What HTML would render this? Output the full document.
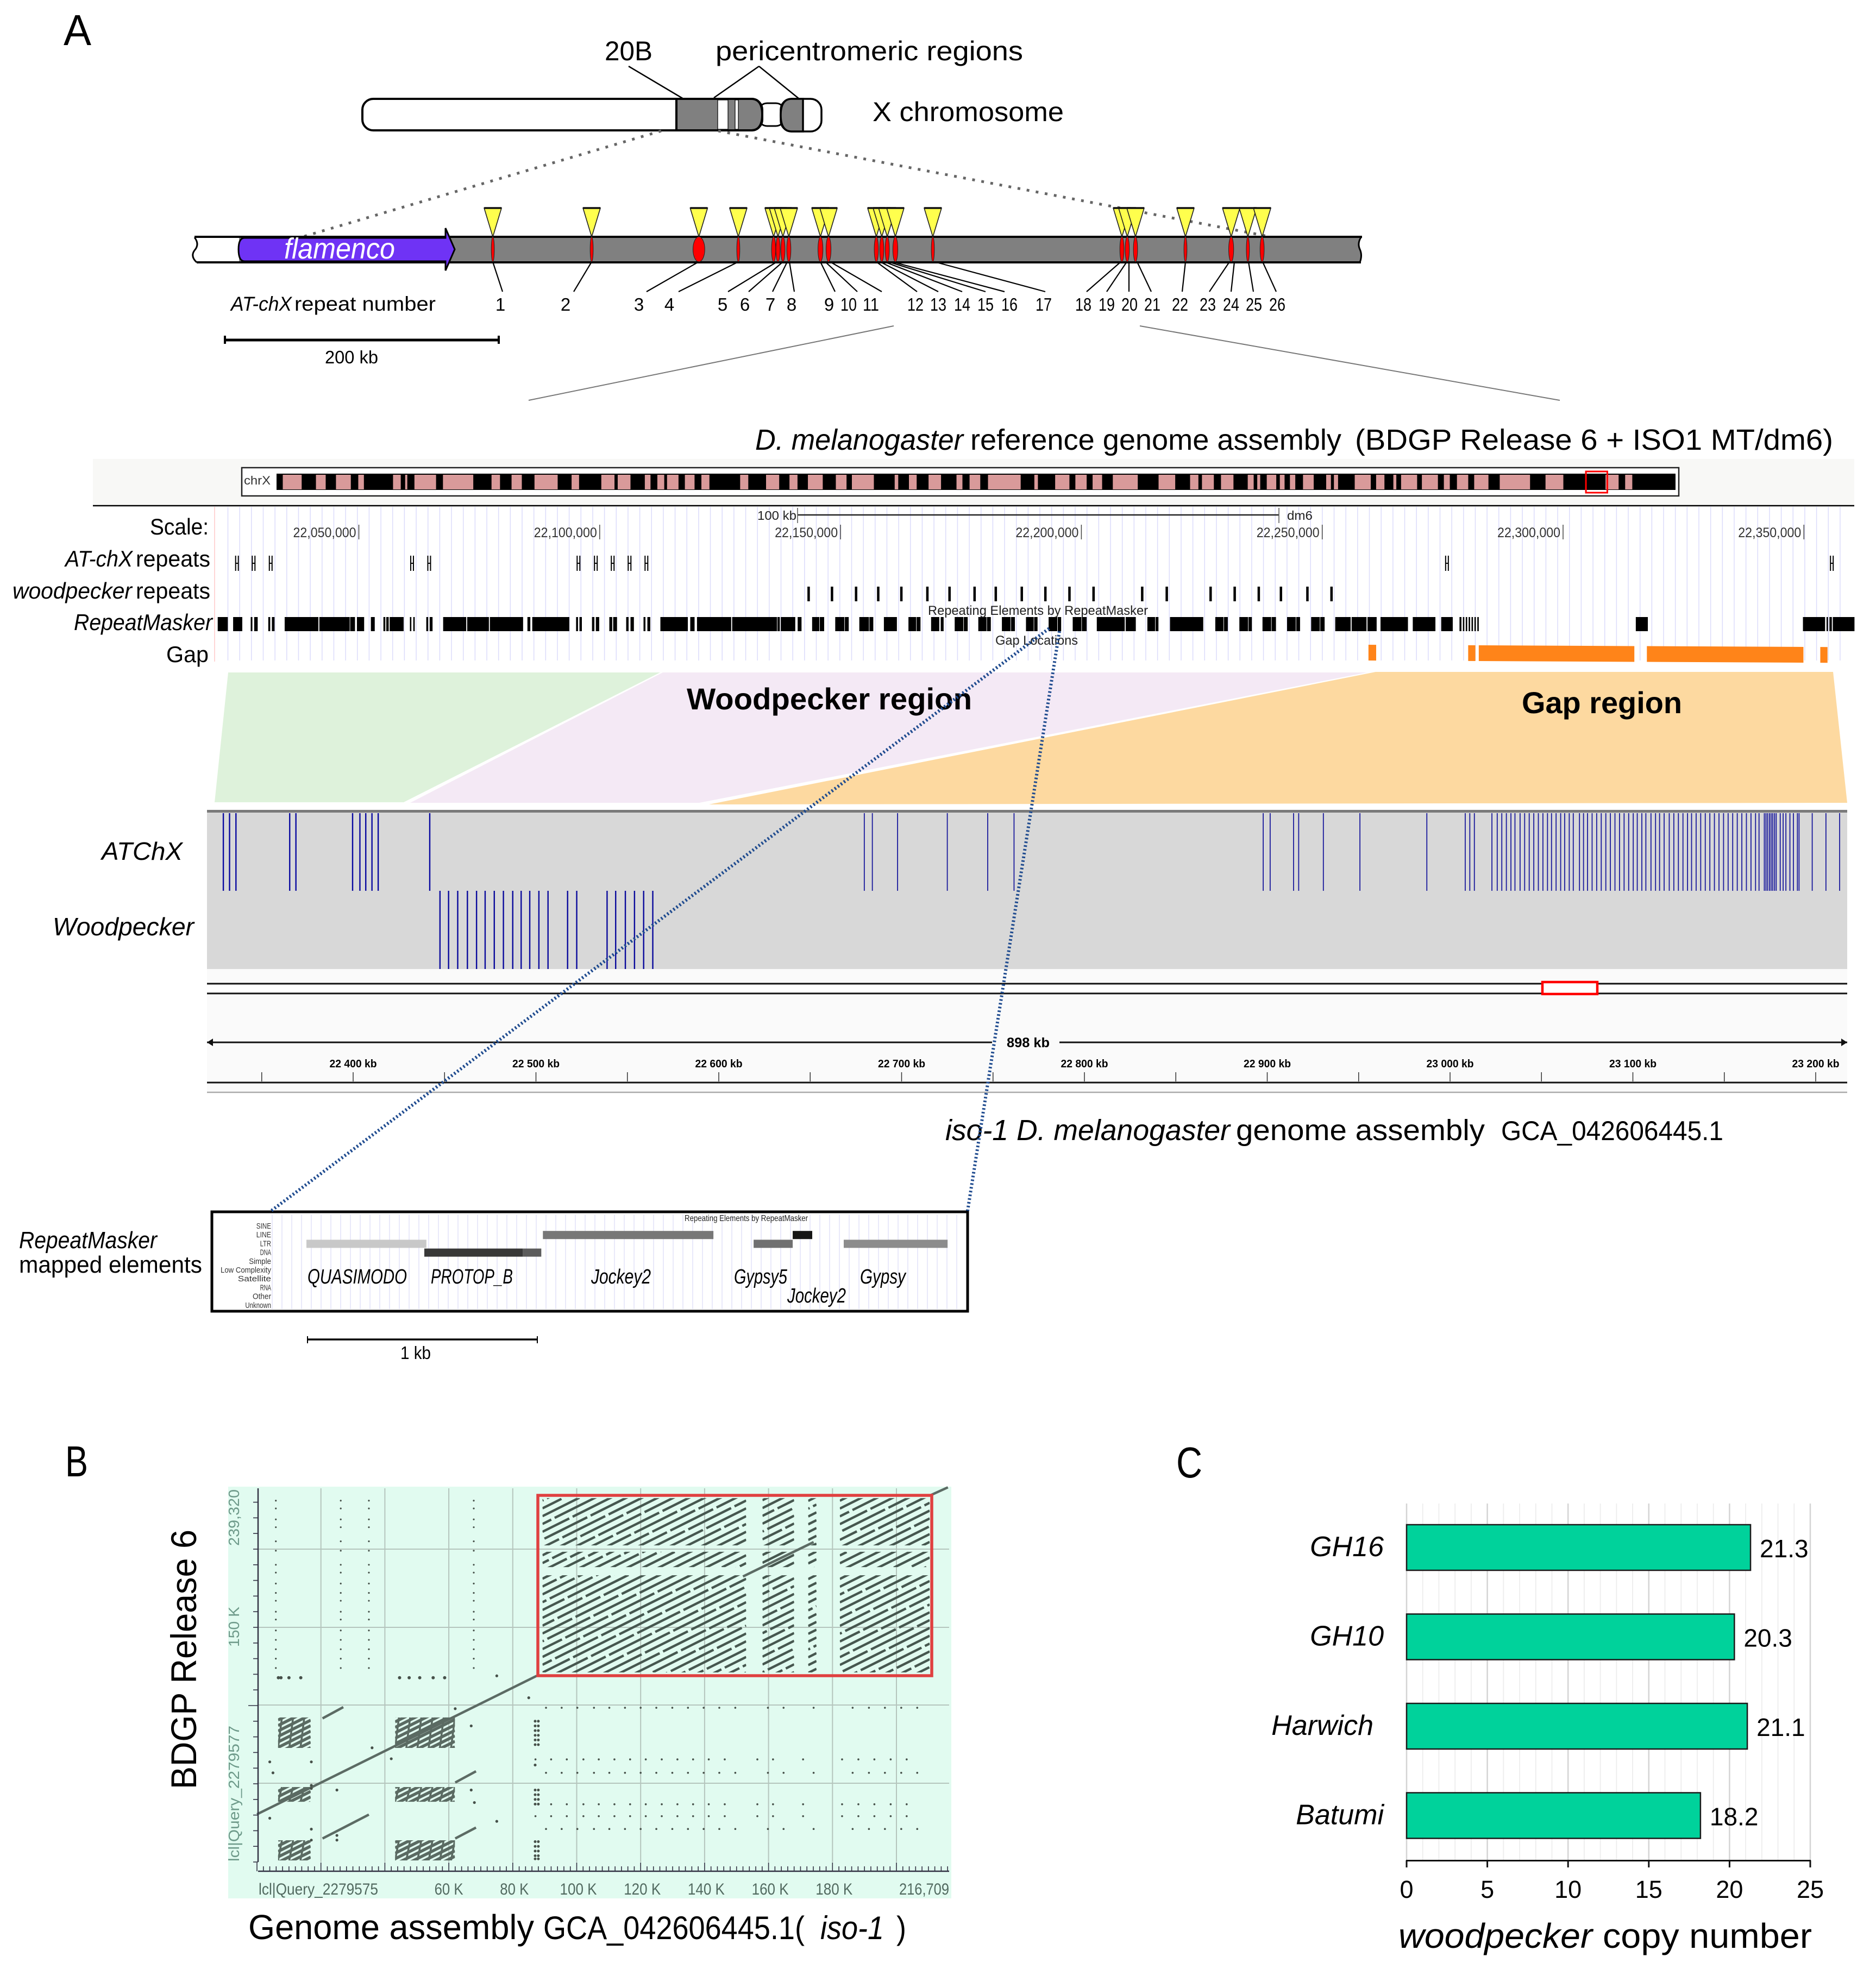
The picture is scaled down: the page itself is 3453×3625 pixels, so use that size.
<!DOCTYPE html>
<html lang="en">
<head>
<meta charset="utf-8">
<title>Woodpecker region figure</title>
<style>
html,body{margin:0;padding:0;background:#fff;}
svg{display:block;font-family:"Liberation Sans",Arial,sans-serif;}
text{fill:#000;}
</style>
</head>
<body>
<svg id="figure" xmlns="http://www.w3.org/2000/svg" width="3453" height="3625" viewBox="0 0 3453 3625">
<rect width="3453" height="3625" fill="#fff"/>

<text x="117" y="83" font-size="80" textLength="51" lengthAdjust="spacingAndGlyphs">A</text>
<text x="120" y="2718" font-size="80" textLength="42" lengthAdjust="spacingAndGlyphs">B</text>
<text x="2165" y="2720" font-size="80" textLength="48" lengthAdjust="spacingAndGlyphs">C</text>

<!-- chromosome -->
<g>
<text x="1113" y="111" font-size="50" textLength="88" lengthAdjust="spacingAndGlyphs">20B</text>
<text x="1317" y="111" font-size="50" textLength="566" lengthAdjust="spacingAndGlyphs">pericentromeric  regions</text>
<path d="M1157 122L1258 182M1397 122L1314 180M1397 122L1471 182" stroke="#000" stroke-width="2.5" fill="none"/>
<rect x="1396" y="190" width="48" height="42" rx="16" fill="#fff" stroke="#000" stroke-width="3"/>
<rect x="667" y="182" width="736" height="58" rx="20" fill="#fff" stroke="#000" stroke-width="4"/>
<path d="M1245 182H1383Q1403 182 1403 211Q1403 240 1383 240H1245Z" fill="#808080" stroke="#000" stroke-width="4"/>
<rect x="1321" y="184" width="19" height="54" fill="#fff" stroke="#000" stroke-width="1.2"/>
<rect x="1353" y="184" width="6" height="54" fill="#fff" stroke="#000" stroke-width="1.2"/>
<rect x="1437" y="182" width="75" height="60" rx="20" fill="#fff" stroke="#000" stroke-width="3.5"/>
<path d="M1478 182H1457Q1437 182 1437 212Q1437 242 1457 242H1478Z" fill="#808080" stroke="#000" stroke-width="3.5"/>
<text x="1606" y="223" font-size="50" textLength="352" lengthAdjust="spacingAndGlyphs">X chromosome</text>
<path d="M1217 241L557 436M1322 241L2339 436" stroke="#666" stroke-width="5" stroke-dasharray="5 12" fill="none"/>
</g>

<!-- flamenco track -->
<g id="flam">
<path d="M358 437H2505Q2498 448 2503 459Q2508 470 2503 482H362Q350 472 358 461Q368 450 358 437Z" fill="#808080" stroke="none"/>
<path d="M358 437H440V482H362Q350 472 358 461Q368 450 358 437Z" fill="#fff"/>
<path d="M358 436H2507M362 483H2505" stroke="#000" stroke-width="4" fill="none"/>
<path d="M358 437Q368 450 358 461Q350 472 362 483M2505 437Q2498 448 2503 459Q2508 470 2503 483" stroke="#000" stroke-width="3" fill="none"/>
<path d="M450 438H820V420L837 459L820 498V481H450Q439 481 439 459Q439 438 450 438Z" fill="#6f33f5" stroke="#000" stroke-width="3"/>
<text x="523" y="476" font-size="54" font-style="italic" textLength="204" lengthAdjust="spacingAndGlyphs" style="fill:#fff">flamenco</text>
</g>
<path stroke="#000" stroke-width="2.2" fill="none"
 d="M907 482L925 537M1089 482L1056 537M1286 482L1190 537M1359 482L1249 537M1430 482L1340 537M1441 482L1378 537M1449 482L1422 537M1453 482L1462 537M1510 482L1537 537M1519 482L1578 537M1528 482L1623 537M1613 482L1688 537M1620 482L1727 537M1628 482L1771 537M1635 482L1814 537M1642 482L1849 537M1720 482L1924 537M2063 482L2000 537M2074 482L2037 537M2078 482L2078 537M2093 482L2119 537M2182 482L2176 537M2263 482L2226 537M2272 482L2266 537M2298 482L2307 537M2324 482L2349 537"/>
<text x="425" y="572" font-size="37" font-style="italic" textLength="112" lengthAdjust="spacingAndGlyphs">AT-chX</text>
<text x="542" y="572" font-size="37" textLength="260" lengthAdjust="spacingAndGlyphs">repeat number</text>
<g font-size="33" text-anchor="middle">
<text x="921" y="572">1</text><text x="1041" y="572">2</text><text x="1176" y="572">3</text><text x="1232" y="572">4</text><text x="1330" y="572">5</text><text x="1371" y="572">6</text><text x="1418" y="572">7</text><text x="1457" y="572">8</text><text x="1526" y="572">9</text><text x="1562" y="572" textLength="30" lengthAdjust="spacingAndGlyphs">10</text><text x="1603" y="572" textLength="30" lengthAdjust="spacingAndGlyphs">11</text><text x="1685" y="572" textLength="30" lengthAdjust="spacingAndGlyphs">12</text><text x="1727" y="572" textLength="30" lengthAdjust="spacingAndGlyphs">13</text><text x="1771" y="572" textLength="30" lengthAdjust="spacingAndGlyphs">14</text><text x="1814" y="572" textLength="30" lengthAdjust="spacingAndGlyphs">15</text><text x="1858" y="572" textLength="30" lengthAdjust="spacingAndGlyphs">16</text><text x="1921" y="572" textLength="30" lengthAdjust="spacingAndGlyphs">17</text><text x="1994" y="572" textLength="30" lengthAdjust="spacingAndGlyphs">18</text><text x="2037" y="572" textLength="30" lengthAdjust="spacingAndGlyphs">19</text><text x="2079" y="572" textLength="30" lengthAdjust="spacingAndGlyphs">20</text><text x="2121" y="572" textLength="30" lengthAdjust="spacingAndGlyphs">21</text><text x="2172" y="572" textLength="30" lengthAdjust="spacingAndGlyphs">22</text><text x="2223" y="572" textLength="30" lengthAdjust="spacingAndGlyphs">23</text><text x="2266" y="572" textLength="30" lengthAdjust="spacingAndGlyphs">24</text><text x="2308" y="572" textLength="30" lengthAdjust="spacingAndGlyphs">25</text><text x="2351" y="572" textLength="30" lengthAdjust="spacingAndGlyphs">26</text>
</g>
<g>
<path d="M414 626H918" stroke="#000" stroke-width="5"/>
<path d="M414 618V633M918 618V633" stroke="#000" stroke-width="4"/>
<text x="598" y="669" font-size="33" textLength="98" lengthAdjust="spacingAndGlyphs">200 kb</text>
</g>
<path d="M1645 600L973 737M2098 600L2871 737" stroke="#777" stroke-width="2" fill="none"/>

<!-- reference title -->
<text x="1390" y="828" font-size="54" font-style="italic" textLength="383" lengthAdjust="spacingAndGlyphs">D. melanogaster</text>
<text x="1786" y="828" font-size="54" textLength="683" lengthAdjust="spacingAndGlyphs">reference genome assembly</text>
<text x="2494" y="828" font-size="54" textLength="880" lengthAdjust="spacingAndGlyphs">(BDGP Release 6 + ISO1 MT/dm6)</text>

<!-- UCSC ideogram -->
<g id="ideo">
<rect x="171" y="845" width="3242" height="85" fill="#f8f8f6"/>
<path d="M171 931H3413" stroke="#000" stroke-width="2.5"/>
<rect x="445" y="861" width="2645" height="52" fill="#fff" stroke="#222" stroke-width="2.5"/>
<text x="449" y="892" font-size="22" textLength="49" lengthAdjust="spacingAndGlyphs" style="fill:#333">chrX</text>
<rect x="509" y="872" width="2575" height="30" fill="#000"/>
</g>
<g id="ugrid"></g>
<path d="M395 933V1218" stroke="#ffc8c8" stroke-width="1.5"/>
<g>
<text x="276" y="984" font-size="42" textLength="108" lengthAdjust="spacingAndGlyphs">Scale:</text>
<text x="120" y="1043" font-size="42" font-style="italic" textLength="124" lengthAdjust="spacingAndGlyphs">AT-chX</text>
<text x="250" y="1043" font-size="42" textLength="137" lengthAdjust="spacingAndGlyphs">repeats</text>
<text x="23" y="1102" font-size="42" font-style="italic" textLength="220" lengthAdjust="spacingAndGlyphs">woodpecker</text>
<text x="250" y="1102" font-size="42" textLength="137" lengthAdjust="spacingAndGlyphs">repeats</text>
<text x="136" y="1160" font-size="42" font-style="italic" textLength="255" lengthAdjust="spacingAndGlyphs">RepeatMasker</text>
<text x="306" y="1219" font-size="42" textLength="78" lengthAdjust="spacingAndGlyphs">Gap</text>
</g>
<g>
<text x="1394" y="957" font-size="23" textLength="72" lengthAdjust="spacingAndGlyphs" style="fill:#222">100 kb</text>
<path d="M1468 948H2354" stroke="#222" stroke-width="2.5"/>
<path d="M1468 935V963M2354 935V963" stroke="#555" stroke-width="1.5"/>
<text x="2369" y="957" font-size="23" textLength="47" lengthAdjust="spacingAndGlyphs" style="fill:#222">dm6</text>
</g>
<g id="utracks"></g>
<text x="1708" y="1132" font-size="24" textLength="405" lengthAdjust="spacingAndGlyphs" style="fill:#222">Repeating Elements by RepeatMasker</text>
<text x="1832" y="1187" font-size="24" textLength="152" lengthAdjust="spacingAndGlyphs" style="fill:#222">Gap Locations</text>

<!-- region trapezoids -->
<polygon points="420,1238 1215,1238 743,1477 395,1477" fill="#def2db"/>
<polygon points="1220,1238 2516,1238 1287,1478 755,1478" fill="#f4e9f5"/>
<polygon points="2532,1237 3374,1237 3400,1478 1305,1481" fill="#fdd9a0"/>
<text x="1264" y="1306" font-size="56" font-weight="bold" textLength="525" lengthAdjust="spacingAndGlyphs">Woodpecker region</text>
<text x="2801" y="1313" font-size="56" font-weight="bold" textLength="295" lengthAdjust="spacingAndGlyphs">Gap region</text>

<!-- IGV panel -->
<g id="igv">
<rect x="381" y="1784" width="3019" height="227" fill="#fafafa"/>
<rect x="381" y="1491" width="3019" height="5" fill="#7a7a7a"/>
<rect x="381" y="1496" width="3019" height="288" fill="#d8d8d8"/>
<rect x="381" y="1811" width="3019" height="18" fill="#fff"/>
<path d="M381 1811H3400M381 1829H3400" stroke="#111" stroke-width="3"/>
<rect x="2839" y="1808" width="101" height="22" fill="#fff" stroke="#f00" stroke-width="4.5"/>
<path d="M381 1919H1826M1950 1919H3400" stroke="#111" stroke-width="3"/>
<path d="M381 1919L392 1912V1926ZM3400 1919L3389 1912V1926Z" fill="#111"/>
<text x="1853" y="1928" font-size="25" textLength="79" lengthAdjust="spacingAndGlyphs" font-weight="bold">898 kb</text>
<path d="M381 1993H3400" stroke="#111" stroke-width="3"/>
<path d="M381 2011H3400" stroke="#aaa" stroke-width="2.5"/>
<text x="187" y="1583" font-size="46" font-style="italic" textLength="149" lengthAdjust="spacingAndGlyphs">ATChX</text>
<text x="97" y="1722" font-size="46" font-style="italic" textLength="260" lengthAdjust="spacingAndGlyphs">Woodpecker</text>
</g>

<text x="1740" y="2099" font-size="54" font-style="italic" textLength="524" lengthAdjust="spacingAndGlyphs">iso-1 D. melanogaster</text>
<text x="2275" y="2099" font-size="54" textLength="458" lengthAdjust="spacingAndGlyphs">genome assembly</text>
<text x="2763" y="2099" font-size="50" textLength="409" lengthAdjust="spacingAndGlyphs">GCA_042606445.1</text>

<!-- inset -->
<g id="inset">
<rect x="390" y="2231" width="1391" height="183" fill="#fff"/>
</g>
<g id="insetTop">
<rect x="390" y="2231" width="1391" height="183" fill="none" stroke="#000" stroke-width="5"/>
<text x="1260" y="2248" font-size="16" textLength="227" lengthAdjust="spacingAndGlyphs" style="fill:#222">Repeating Elements by RepeatMasker</text>
<g font-style="italic" font-size="38">
<text x="566" y="2363" textLength="183" lengthAdjust="spacingAndGlyphs">QUASIMODO</text>
<text x="793" y="2363" textLength="151" lengthAdjust="spacingAndGlyphs">PROTOP_B</text>
<text x="1088" y="2363" textLength="110" lengthAdjust="spacingAndGlyphs">Jockey2</text>
<text x="1351" y="2363" textLength="98" lengthAdjust="spacingAndGlyphs">Gypsy5</text>
<text x="1583" y="2363" textLength="84" lengthAdjust="spacingAndGlyphs">Gypsy</text>
<text x="1449" y="2398" textLength="108" lengthAdjust="spacingAndGlyphs">Jockey2</text>
</g>
</g>
<text x="35" y="2298" font-size="44" font-style="italic" textLength="254" lengthAdjust="spacingAndGlyphs">RepeatMasker</text>
<text x="35" y="2343" font-size="44" textLength="337" lengthAdjust="spacingAndGlyphs">mapped elements</text>
<g>
<path d="M566 2466H989" stroke="#000" stroke-width="3.5"/>
<path d="M566 2460V2473M989 2460V2473" stroke="#000" stroke-width="2"/>
<text x="737" y="2502" font-size="33" textLength="56" lengthAdjust="spacingAndGlyphs">1 kb</text>
</g>

<!-- Panel B -->
<rect x="420" y="2737" width="1331" height="758" fill="#e1fbf0"/>
<g id="dot"></g>
<text transform="rotate(-90 361 3294)" x="361" y="3294" font-size="66" textLength="478" lengthAdjust="spacingAndGlyphs">BDGP Release 6</text>
<text x="457" y="3570" font-size="64" textLength="526" lengthAdjust="spacingAndGlyphs">Genome assembly</text>
<text x="1000" y="3570" font-size="60" textLength="481" lengthAdjust="spacingAndGlyphs">GCA_042606445.1(</text>
<text x="1510" y="3570" font-size="60" font-style="italic" textLength="117" lengthAdjust="spacingAndGlyphs">iso-1</text>
<text x="1650" y="3570" font-size="60" textLength="18" lengthAdjust="spacingAndGlyphs">)</text>

<!-- Panel C -->
<g id="bars"></g>
<text x="2574" y="3586" font-size="64" font-style="italic" textLength="357" lengthAdjust="spacingAndGlyphs">woodpecker</text>
<text x="2950" y="3586" font-size="64" textLength="385" lengthAdjust="spacingAndGlyphs">copy number</text>

<!-- dotted links -->
<path d="M1931 1157L498 2230M1950 1162L1781 2229" stroke="#1f4b8f" stroke-width="6" stroke-dasharray="3 4" fill="none"/>

<script>
const atchxSitesKb = [217.5,289.7,368,396.8,422.6,425.8,429.4,433.7,456.8,462.7,497.6,501.6,505.6,511.5,538.9,677,680.9,686.9,723.4,756.8,769,779.4];
const atchxSiteSpanKb = [1.6,1.6,8,1.6,2.4,2.4,2.4,2.4,3,3,2.4,2.4,2.4,3,1.6,2.4,2.4,2.4,1.6,3,1.6,2.4];
const ideogramBandsMb = [[.105,.423],[.663,.827],[1,1.25],[1.375,1.47],[1.96,2.09],[2.164,2.2],[2.32,2.684],[2.8,3.31],[3.617,3.76],[3.954,4.127],[4.34,4.73],[4.964,5.09],[5.464,5.686],[5.74,5.955],[6.196,6.292],[6.407,6.523],[6.57,6.763],[6.87,7.033],[7.148,7.283],[7.8,7.937],[8.236,8.457],[8.63,8.765],[8.94,9.19],[9.41,9.59],[9.68,10.05],[10.4,10.46],[10.64,10.77],[10.97,11.18],[11.44,11.54],[11.66,11.84],[11.97,12.52],[12.75,12.81],[13.1,13.34],[13.44,13.63],[13.73,13.89],[14.07,14.49],[14.84,15.12],[15.37,15.51],[15.57,15.77],[15.89,16.1],[16.34,16.44],[16.5,16.55],[16.66,16.82],[16.88,16.96],[17.05,17.14],[17.27,17.45],[17.66,17.74],[17.79,17.86],[18.14,18.41],[18.5,18.64],[18.79,18.84],[18.92,19.19],[19.27,19.54],[19.64,19.74],[19.86,20.05],[20.15,20.39],[20.58,21.09],[21.35,21.65],[22.36,22.58],[22.69,22.81]];
const ideogramViewMb = [22.03,22.39];
const browserTicksKb = [50,100,150,200,250,300,350];
const browserTickLabels = ['22,050,000','22,100,000','22,150,000','22,200,000','22,250,000','22,300,000','22,350,000'];
const atchxRepeatsKb = [24.7,28.15,31.7,61.05,64.6,95.6,99.2,102.7,106.2,109.7,275.9,355.8];
const woodpeckerRepeatsKb = [143.35,148.2,153.2,157.8,162.6,168,172.6,177.8,182.2,187.6,192.5,197.5,202.5,212.6,217.7,226.8,231.8,236.8,241.4,246.9,251.9];
const repeatMaskerKb = [[20.7,22.8],[23.9,25.8],[27.55,27.9],[28.27,29],[31.2,31.6],[31.95,32.5],[34.6,41.6],[41.8,48.1],[48.2,49.2],[49.6,51.1],[52.5,53.3],[55.1,55.5],[55.7,56.2],[56.4,59.3],[60.6,60.9],[61.3,61.6],[64,64.4],[64.7,65.3],[67.5,72.3],[72.5,77],[77.2,84.1],[85,85.6],[86,93.7],[95.1,95.5],[95.8,96.3],[98.4,98.9],[99.2,99.9],[102,102.6],[102.8,103.6],[105.5,106],[106.4,107.1],[109.1,109.5],[109.9,110.5],[112.6,118.3],[118.8,119.7],[120.2,127.3],[127.5,136.8],[136.9,137.4],[137.6,140.6],[141.1,141.9],[144.1,145.6],[145.7,146.6],[148.9,150.8],[150.9,151.7],[153.9,155.9],[156,156.8],[159,161.7],[164.1,165.7],[165.8,166.6],[168.8,170.5],[170.8,171.4],[173.7,175.5],[175.6,176.4],[178.6,180.3],[180.4,181.2],[183.5,185.3],[185.4,186.2],[188.5,190.1],[190.2,190.9],[193.2,195],[195.1,195.8],[198.2,200],[200.1,201.1],[203.2,209],[209.2,211.3],[213.7,215.3],[215.4,216],[218.4,225.3],[227.8,229.5],[229.6,230.4],[232.8,234.6],[234.7,235.4],[237.6,239.4],[239.5,240.4],[242.7,244.5],[244.6,245.4],[247.7,249.5],[249.6,250.5],[252.7,255.9],[256.1,259.2],[259.4,261.3],[262.1,267.8],[268.8,273.5],[274.7,277.1],[278.5,278.9],[279.2,279.5],[279.8,280.1],[280.4,280.7],[281,281.3],[281.6,281.9],[282.2,282.5],[315.1,317.6],[349.8,354.4],[354.7,355],[355.3,355.8],[356,360.5]];
const gapsKb = [[259.6,261.2],[280.3,281.8],[282.5,314.8],[317.4,349.9],[353.4,354.9]];
const igvAtchxKb = [329,332.4,335.9,365.3,368.7,399.7,403.7,406.9,410.3,413.7,441.9,679.6,684,697.8,725,747.1,761.5,897.8,901.6,914.4,917.2,930.7,950.7,987.3,1008.3,1010.8,1013.3,1022.9,1025.8,1028.3,1030.8,1033.3,1035.5,1038.3,1040.8,1043.3,1045.8,1048.3,1050.8,1053.3,1055.5,1058,1060.5,1062.7,1065.2,1067.4,1070.8,1073,1075.2,1077.7,1080.2,1082.7,1085.2,1087.7,1090.2,1092.7,1095.2,1097.7,1100.2,1102.4,1104.9,1107.1,1109.9,1112.4,1114.6,1117.1,1119.9,1122.4,1124.9,1127.4,1129.9,1132.1,1134.6,1137.1,1139.6,1142.1,1144.6,1147.1,1149.6,1152.1,1154.6,1157.1,1159.6,1162.1,1164.6,1167.1,1169,1171.9,1172.8,1173.7,1174.7,1175.6,1176.5,1177.5,1178.4,1180.6,1182.2,1183.7,1185.9,1187.8,1190,1190.9,1198.1,1205.6,1213.1];
const igvWoodpeckerKb = [447.5,452.2,457.2,462.5,467.5,472.2,477.2,482.2,487.3,491.9,496.6,501.6,506.6,517.3,522.3,538.9,543.6,548.9,553.9,558.9,563.9];
const igvMajorKb = [400,500,600,700,800,900,1000,1100,1200];
const igvMajorLabels = ['22 400 kb','22 500 kb','22 600 kb','22 700 kb','22 800 kb','22 900 kb','23 000 kb','23 100 kb','23 200 kb'];
const igvMinorKb = [350,450,550,650,750,850,950,1050,1150];
const insetClasses = ['SINE','LINE','LTR','DNA','Simple','Low Complexity','Satellite','RNA','Other','Unknown'];
const insetElementClass = [2,3,3,1,2,1,2];
const insetElementStartKb = [0,.513,.941,1.029,1.946,2.116,2.338];
const insetElementEndKb = [.522,.941,1.022,1.771,2.116,2.201,2.79];
const insetElementGrey = ['#c8c8c8','#383838','#5c5c5c','#777777','#707070','#151515','#8c8c8c'];

const dotDiagonalK = [[0,30.5,87.5,119],[152,182.5,174.1,204.5],[210.7,234.5,216.1,239.5],[20.5,91.8,27,99],[20.5,15,35,30.3],[62,50.8,68.5,58],[62,15,68.5,22]];
const hatchBigXK = [[89.3,153],[158.1,168],[172.4,175],[182.3,210.4]];
const hatchBigYK = [[202.4,232.6],[188.5,198.3],[121.2,183.3]];
const hatchSmallXK = [[6.6,16.8],[43.2,61.9]];
const hatchSmallYK = [[72.9,92.4],[38.5,47.9],[1,13.9]];
const dotColumnsK = [5.9,26.2,35,67.8];
const dotColumnRowsK = [231,226,219,214,205,199,190,185,178,172,167,160,155,148,142,136,130,124];
const dotRowK = [98.6,65.6,57,36.9,29.3,21.1];
const dotRowShiftK = [0,3.3,0,3.3,3.3,0];
const dotRowColsK = [90.4,95.3,100.2,105.4,110.2,115.1,120,124.9,129.9,134.8,139.7,144.6,149.6,159.8,164.7,174.1,186.3,191.4,196.4,201.5,206.5];
const dotCrossXK = [6.7,7.5,10,13.7,44.6,47.6,50.9,55.1,58.7];
const dotCrossYK = 117.8;
const dotTickColumnK = 87;
const dotTickRowsK = [90,87,84,81,78,75,46,43,40,37,13,10,7,4,2];
const dotStrayK = [[4,64],[5,57],[17,64],[17,47],[17,49],[25,46],[25,17],[17,21],[25,14],[36,73],[42,66],[62,98],[67,87],[75,119],[67,46],[68,38],[75,26],[4,28],[17,14],[87,62],[85,105]];
const dotXTicksK = [60,80,100,120,140,160,180];
const dotXTickLabels = ['60 K','80 K','100 K','120 K','140 K','160 K','180 K'];

const strains = ['GH16','GH10','Harwich','Batumi'];
const copyNumbers = [21.3,20.3,21.1,18.2];
const copyTicks = [0,5,10,15,20,25];

const NS = 'http://www.w3.org/2000/svg';
function add(parent, tag, attrs, txt) {
  const el = document.createElementNS(NS, tag);
  for (const k in attrs) el.setAttribute(k, attrs[k]);
  if (txt !== undefined) el.textContent = txt;
  parent.appendChild(el);
  return el;
}
const $ = id => document.getElementById(id);

/* flamenco track */
const xLocus = kb => 359 + kb * 2.52;
atchxSitesKb.forEach((kb, i) => {
  const x = xLocus(kb);
  const tri = add($('flam'), 'polygon', {points: `${x-16},383 ${x+16},383 ${x},436`, fill: '#ffff4d', stroke: '#222', 'stroke-width': 1.6});
  
  
  const cap = add($('flam'), 'line', {x1: x-16, x2: x+16, y1: 383, y2: 383, stroke: '#111', 'stroke-width': 3.5});
  
  
  const el = add($('flam'), 'ellipse', {cx: x, cy: 459, rx: atchxSiteSpanKb[i] * 2.52 / 2 + .8, ry: 23, fill: '#f00', stroke: '#222', 'stroke-width': 1});
  
  
});

/* ideogram */
const xIdeo = mb => 509 + mb * 109.4;
ideogramBandsMb.forEach(b => {
  const r = add($('ideo'), 'rect', {x: xIdeo(b[0]), y: 874, width: xIdeo(b[1]) - xIdeo(b[0]), height: 27, fill: '#d99a9a'});
  
  
});
const view = add($('ideo'), 'rect', {x: xIdeo(ideogramViewMb[0]), y: 868, width: xIdeo(ideogramViewMb[1]) - xIdeo(ideogramViewMb[0]), height: 39, fill: 'none', stroke: '#f00', 'stroke-width': 3});



/* browser grid */
for (let x = 419.5; x < 3400; x += 21.66) {
  const g = add($('ugrid'), 'line', {x1: x, x2: x, y1: 933, y2: 1216, stroke: '#dcdcfb', 'stroke-width': 1.5});
  
  
}

/* browser tracks */
const xBrowser = kb => 660.5 + (kb - 50) * 8.866;
browserTicksKb.forEach((kb, i) => {
  const x = xBrowser(kb);
  const t = add($('utracks'), 'line', {x1: x, x2: x, y1: 966, y2: 993, stroke: '#444', 'stroke-width': 1.5});
  
  
  const l = add($('utracks'), 'text', {x: x - 5, y: 989, 'font-size': 25, 'text-anchor': 'end', textLength: 116, lengthAdjust: 'spacingAndGlyphs', style: 'fill:#333'}, browserTickLabels[i]);
  
  
});
atchxRepeatsKb.forEach(kb => {
  const x = xBrowser(kb);
  const h = add($('utracks'), 'path', {d: `M${x-2.5} 1023V1051M${x+2.5} 1023V1051M${x-2.5} 1037H${x+2.5}`, stroke: '#000', 'stroke-width': 2, fill: 'none'});
  
  
});
woodpeckerRepeatsKb.forEach(kb => {
  const r = add($('utracks'), 'rect', {x: xBrowser(kb) - 2, y: 1080, width: 4.5, height: 27, fill: '#000'});
  
  
});
repeatMaskerKb.forEach(b => {
  const r = add($('utracks'), 'rect', {x: xBrowser(b[0]), y: 1136, width: xBrowser(b[1]) - xBrowser(b[0]), height: 26, fill: '#000'});
  
  
});
gapsKb.forEach(b => {
  const x1 = xBrowser(b[0]), x2 = xBrowser(b[1]);
  const yt = x => 1188 + (x - 2720) * .005;
  const p = add($('utracks'), 'polygon', {points: `${x1},${yt(x1)} ${x2},${yt(x2)} ${x2},${yt(x2)+29} ${x1},${yt(x1)+29}`, fill: '#ff8419'});
  
  
});

/* IGV */
const xIgv = kb => 650 + (kb - 400) * 3.365;
igvAtchxKb.forEach(kb => {
  const l = add($('igv'), 'line', {x1: xIgv(kb), x2: xIgv(kb), y1: 1497, y2: 1640, stroke: kb < 600 ? '#0a0aa0' : '#1a1a9c', 'stroke-width': kb < 600 ? 2.4 : 1.8});
  
  
});
igvWoodpeckerKb.forEach(kb => {
  const l = add($('igv'), 'line', {x1: xIgv(kb), x2: xIgv(kb), y1: 1640, y2: 1784, stroke: '#0a0a9c', 'stroke-width': 2.4});
  
  
});
igvMajorKb.forEach((kb, i) => {
  const t = add($('igv'), 'line', {x1: xIgv(kb), x2: xIgv(kb), y1: 1974, y2: 1991, stroke: '#333', 'stroke-width': 1.5});
  
  
  const l = add($('igv'), 'text', {x: xIgv(kb), y: 1965, 'font-size': 20, 'font-weight': 'bold', 'text-anchor': 'middle', textLength: 87, lengthAdjust: 'spacingAndGlyphs'}, igvMajorLabels[i]);
  
  
});
igvMinorKb.forEach(kb => {
  const t = add($('igv'), 'line', {x1: xIgv(kb), x2: xIgv(kb), y1: 1974, y2: 1991, stroke: '#333', 'stroke-width': 1.5});
  
  
});

/* inset */
for (let x = 501; x < 1778; x += 18) {
  const g = add($('inset'), 'line', {x1: x, x2: x, y1: 2236, y2: 2410, stroke: '#e2e2f8', 'stroke-width': 1.5});
  
  
}
const xInset = kb => 564 + kb * 423;
const yInset = c => 2250 + c * 16.2;
insetClasses.forEach((c, i) => {
  const l = add($('inset'), 'text', {x: 499, y: yInset(i) + 12, 'font-size': 15, 'text-anchor': 'end', style: 'fill:#333', textLength: c.length > 9 ? 93 : c.length * 6.8, lengthAdjust: 'spacingAndGlyphs'}, c);
  
  
});
insetElementClass.forEach((c, i) => {
  const r = add($('inset'), 'rect', {x: xInset(insetElementStartKb[i]), y: yInset(c), width: xInset(insetElementEndKb[i]) - xInset(insetElementStartKb[i]), height: 15, fill: insetElementGrey[i]});
  
  
});

/* dot plot */
const xQ = k => 473 + k * 5.885;
const yQ = k => 3428 - k * 2.88;
const dot = $('dot');
[[2852],[2996],[3139],[3283]].forEach(v => {
  const g = add(dot, 'line', {x1: 475, x2: 1747, y1: v[0], y2: v[0], stroke: '#b5c5bd', 'stroke-width': 2});
  
  
});
for (let k = 20; k <= 200; k += 20) {
  const g = add(dot, 'line', {x1: xQ(k), x2: xQ(k), y1: 2740, y2: 3428, stroke: '#b5c5bd', 'stroke-width': 2});
  
  
}
const defs = add(dot, 'defs', {});
let clipN = 0;
function hatch(xb, yb, stepK, sw, crossK, dash, col) {
  const id = 'clip' + (clipN++);
  const cp = add(defs, 'clipPath', {id: id});
  add(cp, 'rect', {x: xQ(xb[0]), y: yQ(yb[1]), width: xQ(xb[1]) - xQ(xb[0]), height: yQ(yb[0]) - yQ(yb[1])});
  const g = add(dot, 'g', {'clip-path': `url(#${id})`, stroke: col, 'stroke-width': sw});
  
  
  const s = 1.02;
  const n0 = Math.floor((yb[0] - s * xb[1]) / stepK);
  const n1 = Math.ceil((yb[1] - s * xb[0]) / stepK);
  for (let n = n0; n <= n1; n++) {
    const c = n * stepK;
    const l = add(g, 'line', {x1: xQ(xb[0]), y1: yQ(s * xb[0] + c), x2: xQ(xb[1]), y2: yQ(s * xb[1] + c), 'stroke-dasharray': dash, 'stroke-dashoffset': n * 37});
    
    
  }
  if (crossK) {
    for (let k = xb[0]; k <= xb[1]; k += crossK) {
      const l = add(g, 'line', {x1: xQ(k), y1: yQ(yb[0]), x2: xQ(k + 1.2), y2: yQ(yb[1]), 'stroke-width': 3.5});
      
      
    }
  }
}
dotDiagonalK.forEach(s => {
  const l = add(dot, 'line', {x1: xQ(s[0]), y1: yQ(s[1]), x2: xQ(s[2]), y2: yQ(s[3]), stroke: '#5c6b64', 'stroke-width': 4.5});
  
  
});
hatchBigXK.forEach(x => hatchBigYK.forEach(y => hatch(x, y, 5, 4.4, 0, '88 7', '#46574f')));
hatchSmallXK.forEach(x => hatchSmallYK.forEach(y => hatch(x, y, 3.5, 5.5, 3.5, 'none', '#5a6a62')));
function pt(k, yk, r) {
  const c = add(dot, 'circle', {cx: xQ(k), cy: yQ(yk), r: r, fill: '#465049'});
  
  
}
dotColumnsK.forEach(k => dotColumnRowsK.forEach(y => pt(k, y, 1.6)));
dotCrossXK.forEach(k => pt(k, dotCrossYK, 3));
dotRowK.forEach((y, i) => dotRowColsK.forEach(k => pt(k - dotRowShiftK[i], y, 1.8)));
dotTickRowsK.forEach(y => { pt(dotTickColumnK, y, 2.5); pt(dotTickColumnK + 1, y, 2.5); });
dotStrayK.forEach(p => pt(p[0], p[1], 2.6));
const red = add(dot, 'rect', {x: 990, y: 2753, width: 725, height: 332, fill: 'none', stroke: '#e04040', 'stroke-width': 5.5});


const axes = add(dot, 'path', {d: 'M475 2740V3428M475 3445H1747', stroke: '#334', 'stroke-width': 2.5, fill: 'none'});


for (let k = 0; k <= 216; k += 2) {
  const len = k % 20 === 0 ? 16 : 9;
  const t = add(dot, 'line', {x1: xQ(k), x2: xQ(k), y1: 3445 - len, y2: 3445, stroke: '#334', 'stroke-width': 1.6});
  
  
}
for (let k = 0; k <= 239; k += 10) {
  const len = k === 100 ? 18 : 9;
  const t = add(dot, 'line', {x1: 475 - len, x2: 475, y1: yQ(k), y2: yQ(k), stroke: '#334', 'stroke-width': 1.6});
  
  
}
dotXTicksK.forEach((k, i) => {
  const l = add(dot, 'text', {x: xQ(k) + (k === 60 ? 0 : 3), y: 3488, 'font-size': 30, 'text-anchor': 'middle', textLength: k < 100 ? 53 : 68, lengthAdjust: 'spacingAndGlyphs', style: 'fill:#526a60'}, dotXTickLabels[i]);
  
  
});
const xo = add(dot, 'text', {x: 476, y: 3488, 'font-size': 30, textLength: 220, lengthAdjust: 'spacingAndGlyphs', style: 'fill:#526a60'}, 'lcl|Query_2279575');


const xe = add(dot, 'text', {x: 1655, y: 3488, 'font-size': 30, textLength: 92, lengthAdjust: 'spacingAndGlyphs', style: 'fill:#526a60'}, '216,709');


const y1 = add(dot, 'text', {transform: 'rotate(-90 440 2846)', x: 440, y: 2846, 'font-size': 28, textLength: 104, lengthAdjust: 'spacingAndGlyphs', style: 'fill:#6e9a8a'}, '239,320');


const y2 = add(dot, 'text', {transform: 'rotate(-90 440 3032)', x: 440, y: 3032, 'font-size': 28, textLength: 74, lengthAdjust: 'spacingAndGlyphs', style: 'fill:#6e9a8a'}, '150 K');


const y3 = add(dot, 'text', {transform: 'rotate(-90 440 3427)', x: 440, y: 3427, 'font-size': 28, textLength: 250, lengthAdjust: 'spacingAndGlyphs', style: 'fill:#6e9a8a'}, 'lcl|Query_2279577');



/* bar chart */
const xBar = v => 2589 + v * 29.72;
const yBar = i => 2849 + i * 164.5;
const bars = $('bars');
for (let v = 0; v <= 25; v++) {
  const major = v % 5 === 0;
  const g = add(bars, 'line', {x1: xBar(v), x2: xBar(v), y1: 2768, y2: 3424, stroke: major ? '#d4d4d4' : '#ededed', 'stroke-width': major ? 2.5 : 1.8});
  
  
}
strains.forEach((s, i) => {
  const r = add(bars, 'rect', {x: xBar(0), y: yBar(i) - 42, width: xBar(copyNumbers[i]) - xBar(0), height: 84, fill: '#00d29b', stroke: '#1a1a1a', 'stroke-width': 2.5});
  
  
  const c = add(bars, 'text', {x: s === 'Harwich' ? 2528 : 2547, y: yBar(i) + 16, 'font-size': 52, 'font-style': 'italic', 'text-anchor': 'end'}, s);
  
  
  const v = add(bars, 'text', {x: xBar(copyNumbers[i]) + 17, y: yBar(i) + 18, 'font-size': 46}, copyNumbers[i].toFixed(1));
  
  
});
const ax = add(bars, 'line', {x1: xBar(0) - 1, x2: xBar(25) + 1, y1: 3425.5, y2: 3425.5, stroke: '#111', 'stroke-width': 3});


copyTicks.forEach(v => {
  const t = add(bars, 'line', {x1: xBar(v), x2: xBar(v), y1: 3425, y2: 3438, stroke: '#111', 'stroke-width': 3});
  
  
  const l = add(bars, 'text', {x: xBar(v), y: 3494, 'font-size': 45, 'text-anchor': 'middle'}, String(v));
  
  
});
</script>
</svg>
</body>
</html>
